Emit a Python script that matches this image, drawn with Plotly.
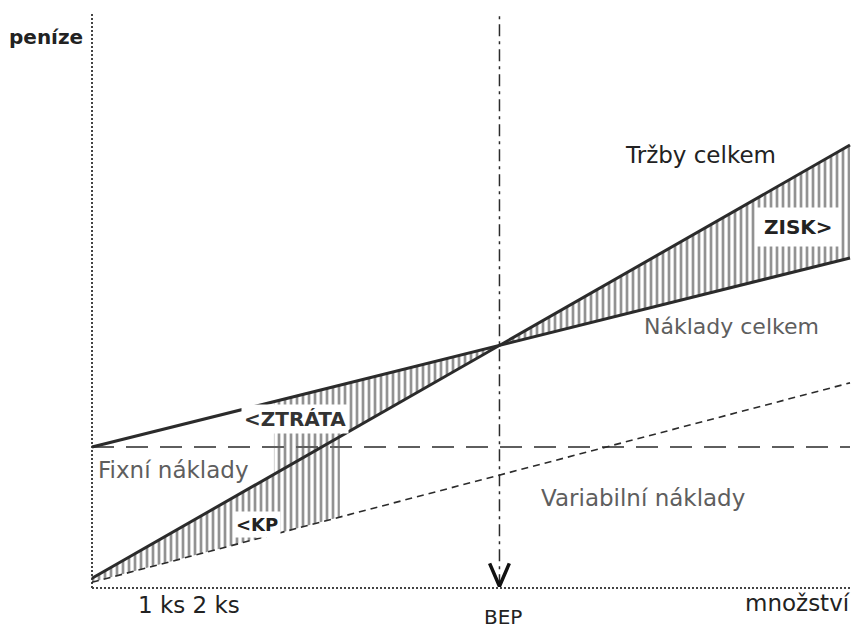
import numpy as np
import plotly.graph_objects as go

# ---- data ----
quantity = [0, 100]              # množství (relative units)
trzby = [1.7, 77.3]              # Tržby celkem
naklady_celkem = [24.6, 57.6]    # Náklady celkem
fixni = [24.6, 24.6]             # Fixní náklady
variabilni = [1.0, 35.8]         # Variabilní náklady
ztrata_from = 24                 # start of hatched loss region
kp_to = 32.7                     # end of hatched contribution-margin region

q = np.array(quantity, float)
rev = np.array(trzby, float)
tc = np.array(naklady_celkem, float)
vc = np.array(variabilni, float)

def lin(xs, x, y):
    return np.interp(xs, x, y)

# break-even point: intersection of revenue and total costs
p = (rev[1] - rev[0]) / (q[1] - q[0])
v = (tc[1] - tc[0]) / (q[1] - q[0])
bep = (tc[0] - rev[0]) / (p - v)

DARK = "#2b2b2b"
GRAY = "#5e5e5e"
FONT = "DejaVu Sans"

fig = go.Figure()

def hatch(x0, x1, upper, lower):
    xs = np.linspace(x0, x1, 2)
    up = lin(xs, q, upper)
    lo = lin(xs, q, lower)
    fig.add_trace(go.Scatter(
        x=np.concatenate([xs, xs[::-1]]),
        y=np.concatenate([up, lo[::-1]]),
        fill="toself", mode="lines", line=dict(width=0, color="rgba(0,0,0,0)"),
        fillcolor="rgba(0,0,0,0)",
        fillpattern=dict(shape="|", fgcolor="#262626", bgcolor="rgba(255,255,255,0)",
                         size=6, solidity=0.45),
        hoverinfo="skip", showlegend=False))

hatch(bep, q[1], rev, tc)          # ZISK
hatch(ztrata_from, bep, tc, rev)   # ZTRÁTA
hatch(q[0], kp_to, rev, vc)        # KP

# axes (dotted)
fig.add_trace(go.Scatter(x=[0, 0], y=[0, 100.5], mode="lines",
                         line=dict(color="#444", width=2, dash="2px,2px"), showlegend=False))
fig.add_trace(go.Scatter(x=[0, 100], y=[0, 0], mode="lines",
                         line=dict(color="#444", width=2, dash="2px,2px"), showlegend=False))

# fixed costs
fig.add_trace(go.Scatter(x=quantity, y=fixni, mode="lines",
                         line=dict(color=GRAY, width=2, dash="22px,12px"), showlegend=False))
# variable costs
fig.add_trace(go.Scatter(x=quantity, y=variabilni, mode="lines",
                         line=dict(color=DARK, width=1.6, dash="7px,5px"), showlegend=False))
# BEP vertical
fig.add_trace(go.Scatter(x=[bep, bep], y=[0.3, 100], mode="lines",
                         line=dict(color=DARK, width=1.5, dash="12px,5px,3px,5px"), showlegend=False))
# arrow V
fig.add_trace(go.Scatter(x=[bep - 1.3, bep, bep + 1.3], y=[4.3, 0.3, 4.3], mode="lines",
                         line=dict(color="#111", width=3.5), showlegend=False))
# revenue and total costs
fig.add_trace(go.Scatter(x=quantity, y=trzby, mode="lines",
                         line=dict(color=DARK, width=3), showlegend=False))
fig.add_trace(go.Scatter(x=quantity, y=naklady_celkem, mode="lines",
                         line=dict(color=DARK, width=3), showlegend=False))

W, H = 854, 629
def ann(text, px, py, size=19, color=DARK, bold=False, bg=None, pad=2):
    t = f"<b>{text}</b>" if bold else text
    fig.add_annotation(x=px / W, y=1 - py / H, xref="paper", yref="paper",
                       text=t, showarrow=False, font=dict(family=FONT, size=size, color=color),
                       bgcolor=bg, borderpad=pad, xanchor="center", yanchor="middle")

ann("peníze", 46, 37, size=20, color="#222", bold=True)
ann("Tržby celkem", 700, 155, size=23, color="#222")
ann("Náklady celkem", 731, 326, size=22, color=GRAY)
ann("Fixní náklady", 173, 470, size=23, color=GRAY)
ann("Variabilní náklady", 643, 498, size=23, color=GRAY)
ann("1 ks 2 ks", 189, 605, size=23, color="#222")
ann("BEP", 503, 617, size=20, color="#222")
ann("množství", 797, 603, size=23, color="#222")
ann("ZISK&gt;", 798, 227, size=20, color="#222", bold=True, bg="white", pad=7)
ann("&lt;ZTRÁTA", 295, 419, size=20, color="#333", bold=True, bg="white", pad=2)
ann("&lt;KP", 257, 524, size=18, color="#222", bold=True, bg="white", pad=2)

# map: pixel 92 -> x=0, 850 -> x=100; pixel 588 -> y=0, 15 -> y=100
x0p, x1p, y0p, y1p = 92, 850, 588, 15
sx = (x1p - x0p) / 100
sy = (y0p - y1p) / 100
fig.update_layout(
    width=W, height=H, margin=dict(l=0, r=0, t=0, b=0),
    paper_bgcolor="white", plot_bgcolor="white", showlegend=False,
    xaxis=dict(visible=False, range=[-x0p / sx, (W - x0p) / sx], fixedrange=True),
    yaxis=dict(visible=False, range=[-(H - y0p) / sy, y0p / sy], fixedrange=True),
)
fig.write_html("out.html", config={"displayModeBar": False},
               post_script="document.body.style.margin='0';document.documentElement.style.overflow='hidden';")
